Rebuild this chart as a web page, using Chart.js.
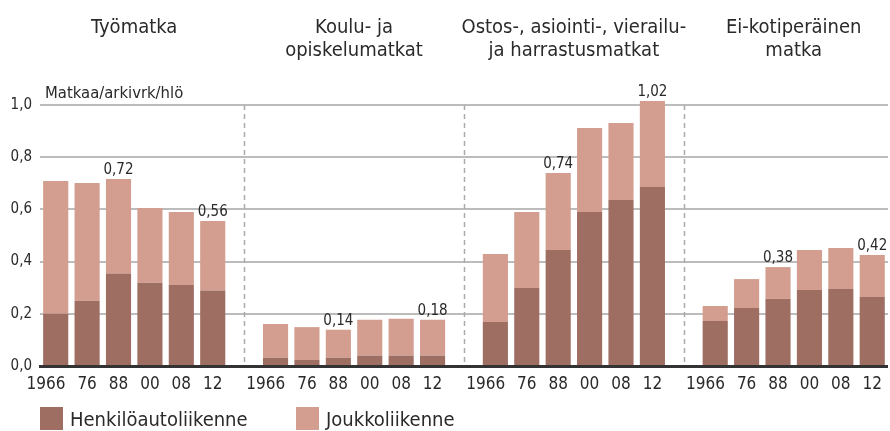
<!DOCTYPE html>
<html lang="fi">
<head>
    <meta charset="UTF-8">
    <title>Matkaa/arkivrk/hlö</title>
    <script src="https://cdn.jsdelivr.net/npm/chart.js@4"></script>
    <style>
        body { margin: 0; background: #fff; }
        #wrap { position: relative; width: 890px; height: 431px; }
        .legend { position: absolute; top: 407px; left: 40px; font-family: 'DejaVu Sans Condensed', 'Liberation Sans', sans-serif; font-size: 20px; color: #2a2a2a; }
        .legend span.item { position: absolute; white-space: nowrap; line-height: 24px; }
        .legend i { display: inline-block; width: 23px; height: 23px; vertical-align: top; margin-right: 7px; }
    </style>
</head>
<body>
<div id="wrap">
    <canvas id="chart" width="890" height="431"></canvas>
    <div class="legend" id="legend"></div>
</div>
<script>
    // vuodet ja ryhmät
    const years = ['1966', '76', '88', '00', '08', '12'];
    const groupTitles = [['Työmatka'], ['Koulu- ja', 'opiskelumatkat'], ['Ostos-, asiointi-, vierailu-', 'ja harrastusmatkat'], ['Ei-kotiperäinen', 'matka']];

    // matkaa/arkivrk/hlö
    const henkiloauto = [
        [0.200, 0.250, 0.354, 0.319, 0.310, 0.289],
        [0.032, 0.023, 0.032, 0.040, 0.040, 0.040],
        [0.169, 0.299, 0.444, 0.590, 0.636, 0.686],
        [0.172, 0.222, 0.257, 0.291, 0.295, 0.264]
    ];
    const joukko = [
        [0.509, 0.451, 0.362, 0.286, 0.280, 0.267],
        [0.129, 0.126, 0.107, 0.137, 0.141, 0.137],
        [0.260, 0.291, 0.295, 0.322, 0.295, 0.329],
        [0.058, 0.111, 0.122, 0.153, 0.157, 0.161]
    ];
    const valueLabels = [
        ['', '', '0,72', '', '', '0,56'],
        ['', '', '0,14', '', '', '0,18'],
        ['', '', '0,74', '', '', '1,02'],
        ['', '', '0,38', '', '', '0,42']
    ];
    const yTicks = [0, 0.2, 0.4, 0.6, 0.8, 1.0];

    const dark = '#9e6e62';
    const light = '#d39e90';
    const FONT = "'DejaVu Sans Condensed', 'Liberation Sans', sans-serif";
    const TEXT = '#2a2a2a';

    // litistetään ryhmät, väliin tyhjä sarake
    function flat(arr, empty) {
        let out = [];
        arr.forEach((g, i) => {
            if (i > 0) out.push(empty);
            out = out.concat(g);
        });
        return out;
    }
    const labels = flat(groupTitles.map(() => years), '');
    const gapIdx = [];
    labels.forEach((l, i) => { if (l === '') gapIdx.push(i); });
    const topLabels = flat(valueLabels, '');

    const extras = {
        id: 'extras',
        beforeDatasetsDraw(chart) {
            const ctx = chart.ctx, x = chart.scales.x, area = chart.chartArea;
            ctx.save();
            ctx.strokeStyle = '#aaaaaa';
            ctx.lineWidth = 1.5;
            ctx.setLineDash([5, 4]);
            gapIdx.forEach(i => {
                const px = Math.round(x.getPixelForValue(i)) + 0.5;
                ctx.beginPath();
                ctx.moveTo(px, area.top);
                ctx.lineTo(px, area.bottom);
                ctx.stroke();
            });
            ctx.restore();
        },
        afterDatasetsDraw(chart) {
            const ctx = chart.ctx, x = chart.scales.x, area = chart.chartArea;
            ctx.save();
            ctx.fillStyle = TEXT;
            ctx.textAlign = 'center';
            ctx.textBaseline = 'alphabetic';

            // otsikot
            ctx.font = '20px ' + FONT;
            groupTitles.forEach((lines, g) => {
                const first = g * 7, last = g * 7 + 5;
                const cx = (x.getPixelForValue(first) + x.getPixelForValue(last)) / 2;
                lines.forEach((t, k) => ctx.fillText(t, cx, 33 + k * 23));
            });

            // yksikkö
            ctx.textAlign = 'left';
            ctx.font = '16.5px ' + FONT;
            ctx.fillText('Matkaa/arkivrk/hlö', area.left + 5, area.top - 7);

            // arvot pylväiden päällä
            ctx.textAlign = 'center';
            ctx.font = '15px ' + FONT;
            const meta = chart.getDatasetMeta(1);
            topLabels.forEach((t, i) => {
                if (!t) return;
                const bar = meta.data[i];
                ctx.fillText(t, bar.x, bar.y - 5);
            });
            ctx.restore();
        }
    };

    const ctx = document.getElementById('chart').getContext('2d');
    const chart = new Chart(ctx, {
        type: 'bar',
        data: {
            labels: labels,
            datasets: [{
                label: 'Henkilöautoliikenne',
                data: flat(henkiloauto, null),
                backgroundColor: dark,
                clip: false
            }, {
                label: 'Joukkoliikenne',
                data: flat(joukko, null),
                backgroundColor: light,
                clip: false
            }]
        },
        options: {
            responsive: false,
            animation: false,
            layout: { padding: { top: 105, right: 2, bottom: 35, left: 0 } },
            datasets: { bar: { barPercentage: 0.8, categoryPercentage: 1 } },
            plugins: { legend: { display: false }, tooltip: { enabled: false } },
            scales: {
                x: {
                    stacked: true,
                    grid: { display: false, drawTicks: false },
                    border: { color: '#333', width: 3 },
                    ticks: {
                        autoSkip: false, maxRotation: 0, padding: 8, color: TEXT,
                        font: { family: FONT, size: 17 },
                        // "66" pylvään kohdalle, "19" vasemmalle
                        callback(v) {
                            const l = this.getLabelForValue(v);
                            return l.length === 4 ? l + '    ' : l;
                        }
                    },
                    afterFit(scale) { scale.height = 30; }
                },
                y: {
                    stacked: true,
                    min: 0,
                    max: 1,
                    grid: { color: '#bcbcbc', lineWidth: 2, drawTicks: false },
                    border: { display: false },
                    afterBuildTicks(scale) { scale.ticks = yTicks.map(v => ({ value: v })); },
                    ticks: {
                        padding: 8,
                        color: TEXT,
                        font: { family: FONT, size: 15 },
                        callback: v => v.toFixed(1).replace('.', ',')
                    },
                    afterFit(scale) { scale.width = 40; }
                }
            }
        },
        plugins: [extras]
    });

    // selite
    const legend = document.getElementById('legend');
    [[dark, 'Henkilöautoliikenne', 0], [light, 'Joukkoliikenne', 256]].forEach(([c, t, left]) => {
        const s = document.createElement('span');
        s.className = 'item';
        s.style.left = left + 'px';
        s.innerHTML = '<i style="background:' + c + '"></i>' + t;
        legend.appendChild(s);
    });
</script>
</body>
</html>
